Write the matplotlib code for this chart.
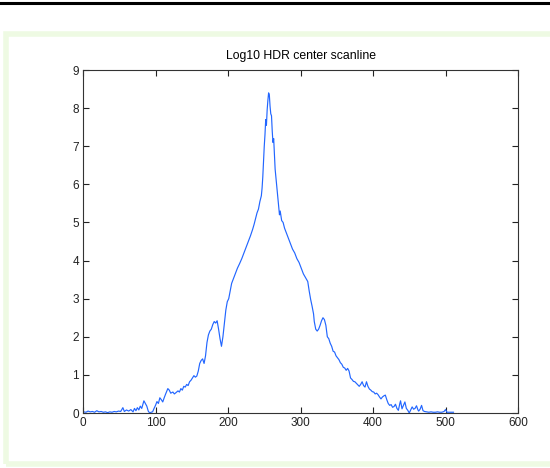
import matplotlib
matplotlib.use("Agg")
import matplotlib.pyplot as plt
from matplotlib.patches import Rectangle
from matplotlib.lines import Line2D

# scanline samples (pixel column, log10 value)
cols = [1, 4, 7, 10, 13, 16, 19, 22, 25, 28, 31, 34, 37, 40, 43, 46, 49, 52, 55, 57,
        60, 63, 66, 69, 71, 73, 75, 77, 79, 81, 84, 86, 88, 90, 92, 94, 96, 98, 100, 102,
        104, 106, 108, 110, 112, 114, 117, 119, 121, 124, 126, 128, 131, 133, 135, 137, 139, 141, 143, 145,
        147, 149, 151, 153, 155, 157, 159, 161, 163, 165, 167, 169, 171, 173, 175, 177, 179, 181, 183, 185,
        187, 189, 191, 193, 195, 197, 199, 201, 203, 205, 207, 210, 213, 216, 219, 222, 225, 228, 231, 234,
        236, 238, 240, 242, 244, 246, 247, 248, 249, 250, 251, 252, 253, 254, 255, 256, 257, 258, 259, 260,
        261, 262, 263, 264, 265, 266, 268, 270, 271, 272, 274, 276, 278, 280, 283, 286, 289, 292, 295, 298,
        301, 304, 307, 310, 312, 314, 316, 318, 319, 321, 323, 325, 327, 329, 331, 333, 335, 337, 339, 341,
        343, 345, 347, 349, 351, 353, 355, 357, 359, 361, 363, 365, 367, 369, 371, 373, 375, 377, 379, 381,
        383, 385, 387, 389, 391, 393, 395, 397, 399, 401, 403, 405, 407, 409, 411, 413, 415, 417, 419, 421,
        423, 425, 427, 429, 431, 433, 435, 437, 438, 440, 442, 444, 446, 448, 450, 452, 454, 456, 458, 460,
        462, 463, 465, 467, 469, 471, 474, 477, 480, 483, 486, 489, 492, 495, 498, 500, 502, 505, 508, 511]
log_lum = [0.03, 0.02, 0.05, 0.03, 0.04, 0.02, 0.06, 0.03, 0.04, 0.02, 0.03, 0.01, 0.03, 0.02, 0.04, 0.03, 0.05, 0.04, 0.14, 0.04,
           0.08, 0.05, 0.09, 0.03, 0.12, 0.06, 0.14, 0.08, 0.18, 0.12, 0.32, 0.25, 0.18, 0.05, 0.00, 0.02, 0.03, 0.12, 0.20, 0.30,
           0.25, 0.40, 0.35, 0.29, 0.40, 0.50, 0.64, 0.60, 0.52, 0.55, 0.50, 0.53, 0.58, 0.55, 0.64, 0.60, 0.70, 0.68, 0.75, 0.72,
           0.82, 0.86, 0.92, 0.98, 0.94, 0.97, 1.10, 1.30, 1.38, 1.42, 1.30, 1.50, 1.85, 2.05, 2.15, 2.20, 2.32, 2.40, 2.36, 2.42,
           2.20, 1.95, 1.75, 2.00, 2.35, 2.70, 2.92, 3.00, 3.20, 3.40, 3.50, 3.65, 3.80, 3.92, 4.05, 4.20, 4.35, 4.50, 4.65, 4.82,
           4.95, 5.10, 5.25, 5.35, 5.55, 5.70, 5.90, 6.20, 6.60, 7.00, 7.30, 7.70, 7.55, 7.95, 8.20, 8.40, 8.35, 8.05, 7.85, 7.80,
           7.40, 7.10, 7.20, 6.80, 6.40, 6.20, 5.80, 5.40, 5.20, 5.30, 5.05, 5.00, 4.85, 4.75, 4.60, 4.45, 4.30, 4.20, 4.05, 3.95,
           3.80, 3.65, 3.55, 3.45, 3.20, 2.98, 2.80, 2.60, 2.40, 2.20, 2.15, 2.20, 2.30, 2.42, 2.50, 2.45, 2.30, 2.00, 1.95, 1.83,
           1.75, 1.62, 1.60, 1.50, 1.45, 1.40, 1.32, 1.28, 1.20, 1.18, 1.12, 1.17, 1.10, 0.92, 0.88, 0.83, 0.82, 0.78, 0.74, 0.70,
           0.75, 0.82, 0.72, 0.68, 0.82, 0.70, 0.63, 0.60, 0.56, 0.55, 0.50, 0.52, 0.48, 0.42, 0.37, 0.42, 0.45, 0.47, 0.35, 0.25,
           0.20, 0.22, 0.15, 0.17, 0.23, 0.12, 0.07, 0.25, 0.32, 0.11, 0.20, 0.29, 0.12, 0.07, 0.00, 0.08, 0.16, 0.10, 0.12, 0.19,
           0.08, 0.05, 0.10, 0.20, 0.06, 0.04, 0.03, 0.02, 0.03, 0.02, 0.02, 0.03, 0.02, 0.02, 0.04, 0.09, 0.02, 0.02, 0.02, 0.02]

xticks = [0, 100, 200, 300, 400, 500, 600]
yticks = list(range(10))

W, H = 550, 468
fig = plt.figure(figsize=(W / 100, H / 100), dpi=100)
fig.patch.set_facecolor("white")

# page decorations: black rule on top, pale green frame around the figure
fig.add_artist(Line2D([0, 1], [1 - 2.5 / H, 1 - 2.5 / H], color="black", lw=2.2,
                      transform=fig.transFigure))
fig.add_artist(Rectangle((5.5 / W, 4 / H), 1.0, 1 - 38 / H, transform=fig.transFigure,
                         fill=False, edgecolor="#eefae3", lw=4))

ax = fig.add_axes([83 / W, 1 - 413 / H, 435 / W, 343 / H])
ax.plot(cols, log_lum, color="#2266ff", lw=0.85)

ax.set_xlim(0, 600)
ax.set_ylim(0, 9)
ax.set_xticks(xticks)
ax.set_yticks(yticks)
ax.tick_params(direction="in", length=4, width=0.8, top=True, right=True,
               labelsize=8.5, colors="#222222", pad=3)
for s in ax.spines.values():
    s.set_linewidth(0.8)
    s.set_color("#333333")
for lbl in ax.get_xticklabels() + ax.get_yticklabels():
    lbl.set_family("Liberation Sans")

ax.set_title("Log10 HDR center scanline", fontsize=8.8, family="Liberation Sans", pad=8)

fig.savefig("out.png", dpi=100)
